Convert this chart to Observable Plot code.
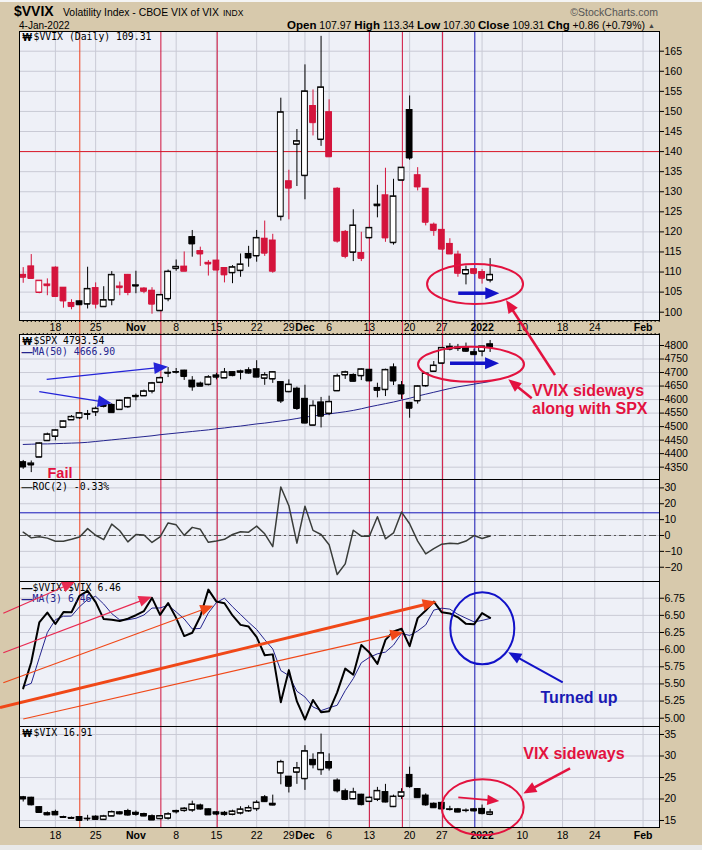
<!DOCTYPE html>
<html><head><meta charset="utf-8">
<script src="https://cdn.jsdelivr.net/npm/d3@7"></script>
<script src="https://cdn.jsdelivr.net/npm/@observablehq/plot@0.6"></script>
<style>
body{margin:0;background:#fff;}
#root{position:relative;width:702px;height:850px;background:#d7c9ac;overflow:hidden;}
.panel{position:absolute;left:0;}
.panel svg{overflow:visible;display:block;}
</style></head><body><div id="root"></div>
<script>
// ---------------- DATA ----------------
const sessions = ["10/12","10/13","10/14","10/15","10/18","10/19","10/20","10/21","10/22","10/25","10/26","10/27","10/28","10/29",
 "11/01","11/02","11/03","11/04","11/05","11/08","11/09","11/10","11/11","11/12","11/15","11/16","11/17","11/18","11/19","11/22","11/23","11/24","11/26","11/29","11/30",
 "12/01","12/02","12/03","12/06","12/07","12/08","12/09","12/10","12/13","12/14","12/15","12/16","12/17","12/20","12/21","12/22","12/23","12/27","12/28","12/29","12/30","12/31",
 "01/03","01/04"];
const tickIdx  = [4,9,14,19,24,29,33,35,38,43,48,52,57,62,67,71,77];
const tickText = ["18","25","Nov","8","15","22","29","Dec","6","13","20","27","2022","10","18","24","Feb"];
const boldLabels = ["Nov","Dec","2022","Feb"];

const vvixPrior = [106.5, 110.05];
const vvixOpen  = [109.3,111.4,104.9,106.9,111.1,106.1,102.3,102.7,102.0,106.0,101.35,103.0,106.4,109.3,106.5,105.9,105.35,100.35,103.3,110.85,111.35,118.7,115.2,112.3,112.85,111.0,109.8,110.35,114.5,114.0,118.3,117.85,123.8,132.6,141.8,134.0,151.35,143.0,149.8,130.75,120.0,114.9,114.75,118.5,126.5,129.1,117.3,132.85,150.35,134.1,130.75,121.8,120.5,117.0,114.35,109.5,110.7,110.0,107.97];
const vvixHigh  = [111.1,114.35,107.9,108.3,111.3,106.1,103.1,102.8,111.2,107.3,106.35,110.1,107.5,109.4,110.2,106.1,106.1,104.3,110.5,113.0,115.0,120.35,116.2,112.85,112.9,111.0,111.6,114.5,116.4,120.35,122.7,119.4,153.3,135.35,145.5,161.6,155.35,168.7,152.9,131.0,120.35,125.5,119.9,121.0,131.6,135.85,133.1,136.0,153.85,136.0,130.75,122.2,120.5,118.3,115.2,111.5,110.7,110.6,113.34];
const vvixLow   = [107.2,108.3,104.6,104.1,103.9,101.0,100.6,101.7,100.8,100.8,101.3,101.6,104.1,104.1,104.6,104.6,99.5,100.3,102.6,110.2,110.2,113.7,111.4,109.0,110.5,107.3,107.1,108.7,111.2,112.45,113.9,109.7,122.7,123.0,131.3,128.0,143.9,141.3,138.7,117.2,113.3,112.6,112.6,118.5,123.5,117.4,116.7,132.85,137.85,130.2,121.5,118.9,115.7,114.5,108.7,106.8,109.3,107.0,107.30];
const vvixClose = [108.7,108.4,107.85,106.6,103.9,102.8,101.4,101.85,105.8,102.0,103.0,109.3,106.1,104.9,106.7,105.2,102.0,104.3,110.1,111.3,110.2,117.0,114.5,112.0,110.5,109.3,111.2,111.9,113.5,118.5,114.7,110.2,149.8,130.9,142.6,155.0,147.2,156.0,138.7,117.7,113.9,121.6,113.4,121.0,126.8,118.5,128.85,136.0,138.4,131.2,122.4,120.35,115.7,114.5,109.7,110.5,109.67,108.45,109.31];

const spxOpen  = [4368.31,4358.01,4386.75,4447.69,4463.72,4497.34,4524.42,4532.24,4546.12,4553.69,4578.69,4580.22,4562.84,4572.87,4610.62,4613.34,4630.65,4662.93,4699.26,4701.48,4707.25,4670.26,4659.39,4655.24,4689.30,4679.42,4701.50,4700.72,4708.44,4712.00,4678.48,4675.78,4664.63,4628.75,4640.25,4602.82,4504.73,4589.49,4548.37,4631.97,4690.86,4691.00,4687.64,4710.30,4642.99,4636.46,4719.13,4652.50,4587.90,4594.96,4650.36,4703.96,4733.99,4795.49,4788.64,4794.23,4775.21,4778.14,4804.51];
const spxHigh  = [4374.89,4372.87,4439.73,4475.82,4488.75,4520.40,4540.87,4551.44,4559.67,4572.62,4598.53,4584.57,4597.55,4608.08,4620.34,4635.15,4663.46,4683.00,4718.50,4714.92,4708.53,4684.85,4664.55,4688.47,4697.42,4714.95,4701.50,4708.80,4717.75,4743.83,4699.39,4702.87,4664.63,4672.95,4646.02,4652.94,4595.46,4608.03,4612.60,4694.04,4705.06,4695.26,4713.57,4710.30,4660.47,4712.60,4731.99,4666.70,4587.90,4651.14,4697.67,4740.74,4791.49,4807.02,4804.06,4808.93,4786.83,4796.64,4818.62];
const spxLow   = [4342.09,4329.92,4386.75,4447.69,4447.47,4496.41,4524.40,4526.89,4524.00,4537.36,4569.17,4551.66,4562.84,4567.59,4595.06,4613.34,4621.19,4662.59,4681.32,4694.39,4670.87,4630.86,4648.31,4650.77,4672.86,4679.42,4684.41,4672.78,4694.22,4682.17,4652.66,4659.89,4585.43,4625.26,4560.00,4510.27,4504.73,4495.12,4540.51,4631.97,4674.52,4665.98,4670.24,4667.60,4606.52,4611.22,4651.89,4600.22,4531.10,4583.16,4645.53,4703.96,4733.99,4780.04,4778.08,4775.33,4765.75,4758.17,4774.27];
const spxClose = [4350.65,4363.80,4438.26,4471.37,4486.46,4519.63,4536.19,4549.78,4544.90,4566.48,4574.79,4551.68,4596.42,4605.38,4613.67,4630.65,4660.57,4680.06,4697.53,4701.70,4685.25,4646.71,4649.27,4682.85,4682.80,4700.90,4688.67,4704.54,4697.96,4682.94,4690.70,4701.46,4594.62,4655.27,4567.00,4513.04,4577.10,4538.43,4591.67,4686.75,4701.21,4667.45,4712.02,4668.97,4634.09,4709.85,4668.67,4620.64,4568.02,4649.23,4696.56,4725.79,4791.19,4786.35,4793.06,4778.73,4766.18,4796.56,4793.54];
const spxMA50  = [4434,4435,4436,4436,4437,4438,4439,4440,4442,4445,4448,4451,4454,4457,4460,4463,4466,4470,4473,4476,4479,4482,4485,4488,4492,4495,4499,4502,4506,4510,4513,4517,4521,4525,4530,4535,4539,4543,4547,4551,4555,4560,4566,4573,4579,4585,4591,4598,4605,4613,4620,4627,4634,4641,4647,4652,4657,4662,4666.9];

const vixPrior = [18.77, 20.86];
const vixOpen  = [20.4,20.3,18.1,16.7,17.0,15.8,15.6,15.8,15.4,15.9,15.2,16.0,16.9,17.2,16.8,16.5,16.0,15.4,15.5,17.0,17.3,17.4,18.5,17.6,16.9,16.8,16.4,16.7,17.2,17.7,20.4,18.9,26.0,25.2,26.2,24.7,29.1,26.8,28.6,24.3,21.8,20.0,21.0,19.4,19.9,21.6,18.2,20.6,25.6,22.3,20.8,18.9,19.1,17.6,17.6,17.3,17.6,17.7,16.4];
const vixHigh  = [20.6,20.4,18.2,17.0,17.4,16.0,15.8,15.9,16.2,16.1,16.2,17.2,17.1,17.6,17.2,16.7,16.3,16.1,16.8,17.4,18.0,19.5,18.8,17.7,17.1,17.1,17.4,18.2,18.4,19.6,20.8,20.9,29.0,25.2,28.5,32.4,30.5,35.1,30.5,24.7,22.3,22.5,21.1,20.5,22.7,23.4,20.9,22.4,27.4,22.4,21.2,19.1,19.2,18.3,17.8,17.7,17.8,18.6,17.6];
const vixLow   = [19.3,18.4,16.8,16.1,16.2,15.6,15.3,14.9,14.8,15.1,15.0,15.9,16.3,16.0,16.0,15.9,15.0,15.2,15.1,16.5,16.9,16.9,17.4,16.2,16.1,16.0,16.1,16.3,16.9,17.1,19.2,18.4,23.3,21.4,23.4,22.0,27.0,25.5,26.5,21.4,19.6,19.8,18.4,19.2,19.4,19.1,18.0,19.9,22.5,20.2,18.3,17.8,17.3,17.2,16.8,16.8,17.0,16.3,16.1];
const vixClose = [20.00,18.64,16.86,16.30,16.30,15.70,15.49,15.01,15.43,15.24,15.98,16.98,16.53,16.26,16.41,16.03,15.10,16.03,16.48,17.22,17.78,18.73,17.66,16.29,16.49,16.37,17.11,17.59,17.91,19.17,19.38,18.58,28.62,22.96,27.19,31.12,27.95,30.67,27.18,21.89,19.90,21.58,18.69,20.31,21.89,19.29,20.57,21.57,22.87,20.31,18.63,17.96,17.68,17.54,16.95,17.33,17.22,16.60,16.91];

// hand-drawn annotation positions (session index, panel value)
const redMarkerDays = [7.03, 17.1, 24.1, 43, 47.1, 52.1];
const blueMarkerDay = 56.1;
const vvixLevel = 140;
const rocLevel = 14.3;

// ---------------- STYLE ----------------
const FONT = "'Liberation Sans', Arial, sans-serif";
const MONO = "'DejaVu Sans Mono', monospace";
const PLOT_BG = "#eef0f7", GRID = "#c9cad5";
const CANDLE_RED = "#d4143c", ANN_RED = "#e3123f", BLUE = "#1212c8", ORANGE = "#f04818", PINK = "#e82a52", NAVY = "#24248e";
const W = 702, ML = 19, MR = 43, BW = 0.36;
const X_DOMAIN = [-0.46, 79.04];
const halfDays = d3.range(0, 79.01, 0.5);
const root = document.getElementById("root");

// ---------------- DERIVED ----------------
function buildCandles(O, H, L, C, prior, colored) {
  return sessions.map((s, i) => {
    const prev = i === 0 ? prior : C[i - 1];
    const col = colored && C[i] < prev ? CANDLE_RED : "#000000";
    return {i, s, open: O[i], high: H[i], low: L[i], close: C[i], col,
      fillc: C[i] > O[i] ? "#ffffff" : col,
      lo: Math.min(O[i], C[i]), hi: Math.max(O[i], C[i])};
  });
}
const vvix = buildCandles(vvixOpen, vvixHigh, vvixLow, vvixClose, vvixPrior[1], true);
const spx = buildCandles(spxOpen, spxHigh, spxLow, spxClose, spxClose[0], false);
const vix = buildCandles(vixOpen, vixHigh, vixLow, vixClose, vixPrior[1], false);
const spxMA = sessions.map((s, i) => ({i, v: spxMA50[i]}));
const allV = [...vvixPrior, ...vvixClose], allX = [...vixPrior, ...vixClose];
const roc = sessions.map((s, i) => ({i, v: (allV[i + 2] / allV[i] - 1) * 100}));
const allR = allV.map((v, k) => v / allX[k]);
const ratio = sessions.map((s, i) => ({i, v: allR[i + 2], ma: (allR[i] + allR[i + 1] + allR[i + 2]) / 3}));

// ---------------- MARK HELPERS ----------------
function candleMarks(data) {
  return [
    Plot.ruleX(data, {x: "i", y1: "low", y2: "high", stroke: "col"}),
    Plot.rect(data, {x1: d => d.i - BW, x2: d => d.i + BW, y1: "lo", y2: "hi", fill: "fillc", stroke: "col", strokeWidth: 1}),
    Plot.ruleY(data, {y: "close", x1: d => d.i - BW, x2: d => d.i + BW, stroke: "col"}),
    Plot.ruleY(data, {y: "open", x1: d => d.i - BW, x2: d => d.i + BW, stroke: "col"})
  ];
}
function markerMarks(extendBottom = 0) {
  return [
    Plot.ruleX(redMarkerDays, {x: d => d, stroke: (d, k) => k === 0 ? "#ee4220" : "#d0103c", strokeWidth: 1, insetBottom: -extendBottom}),
    Plot.ruleX([blueMarkerDay], {x: d => d, stroke: "#1414b0", strokeWidth: 1, insetBottom: -extendBottom})
  ];
}
function arrowMark(list) {
  return Plot.link(list, {
    x1: "x1", y1: "y1", x2: "x2", y2: "y2",
    render(index, scales, values) {
      const g = d3.create("svg:g");
      for (const k of index) {
        const d = list[k];
        const ax = values.x1[k], ay = values.y1[k], bx = values.x2[k], by = values.y2[k];
        const dx = bx - ax, dy = by - ay, len = Math.hypot(dx, dy), ux = dx / len, uy = dy / len;
        const hl = d.head, hw = d.head * 0.85;
        const cx = bx - ux * hl, cy = by - uy * hl;
        g.append("line").attr("x1", ax).attr("y1", ay).attr("x2", cx + ux * 2).attr("y2", cy + uy * 2)
          .attr("stroke", d.col).attr("stroke-width", d.w);
        g.append("path").attr("fill", d.col)
          .attr("d", `M${bx},${by}L${cx - uy * hw / 2},${cy + ux * hw / 2}L${cx + uy * hw / 2},${cy - ux * hw / 2}Z`);
      }
      return g.node();
    }
  });
}
function ellipseMark(list) {
  return Plot.dot(list, {
    x: "i", y: "v",
    render(index, scales, values) {
      const g = d3.create("svg:g");
      for (const k of index) {
        const d = list[k];
        g.append("ellipse").attr("cx", values.x[k]).attr("cy", values.y[k]).attr("rx", d.rx).attr("ry", d.ry)
          .attr("fill", "none").attr("stroke", d.col).attr("stroke-width", d.w);
      }
      return g.node();
    }
  });
}
function noteMark(list, col, size) {
  return Plot.text(list, {x: "i", y: "v", text: "t", textAnchor: "start", lineAnchor: "bottom",
    fill: col, fontSize: size, fontWeight: "bold", fontFamily: FONT});
}
function legendMark(parts) {
  return parts.map(p => Plot.text([p.t], {frameAnchor: "top-left", text: d => d, dx: p.dx, dy: p.dy,
    textAnchor: "start", lineAnchor: "top", fill: p.col || "#000", fontFamily: p.font || MONO,
    fontSize: p.size || 9.8, fontWeight: p.bold ? "bold" : "normal"}));
}
const tickLabel = i => tickText[tickIdx.indexOf(i)];
function dateAxis(anchor, pad) {
  const reg = tickIdx.filter(i => !boldLabels.includes(tickLabel(i)));
  const bold = tickIdx.filter(i => boldLabels.includes(tickLabel(i)));
  return [
    Plot.axisX({anchor, ticks: reg, tickSize: 0, tickPadding: pad, tickFormat: tickLabel, label: null, fontSize: 10.5}),
    Plot.axisX({anchor, ticks: bold, tickSize: 0, tickPadding: pad, tickFormat: tickLabel, label: null, fontSize: 10.5, fontWeight: "bold"})
  ];
}

function makePanel({top, frameH, mb = 0, yDomain, yTicks, yFmt, marks, z, xAxisNull}) {
  const svg = Plot.plot({
    width: W, height: frameH + mb,
    marginLeft: ML, marginRight: MR, marginTop: 0, marginBottom: mb,
    x: xAxisNull ? {domain: X_DOMAIN, axis: null} : {domain: X_DOMAIN},
    y: {domain: yDomain},
    style: {background: "transparent", overflow: "visible", fontFamily: FONT, fontSize: "10.5px", color: "#000"},
    marks: [
      Plot.frame({fill: PLOT_BG, stroke: null}),
      Plot.gridX({ticks: tickIdx, stroke: GRID, strokeOpacity: 1}),
      Plot.gridY({ticks: yTicks, stroke: GRID, strokeOpacity: 1}),
      ...marks,
      Plot.frame({stroke: "#000", strokeWidth: 1, fill: null}),
      Plot.axisY({anchor: "right", ticks: yTicks, tickSize: 4, tickPadding: 1, tickFormat: yFmt, label: null})
    ]
  });
  const div = document.createElement("div");
  div.className = "panel";
  div.style.top = top + "px";
  div.style.zIndex = z;
  div.appendChild(svg);
  root.appendChild(div);
}

// ---------------- PANEL 1 : VVIX ----------------
makePanel({
  top: 31, frameH: 289, mb: 14, z: 6,
  yDomain: [97.93, 169.91], yTicks: d3.range(100, 166, 5), yFmt: d3.format("d"),
  marks: [
    Plot.ruleY([vvixLevel], {stroke: "#dc1a2a"}),
    ...markerMarks(14),
    ...candleMarks(vvix),
    Plot.axisX({anchor: "bottom", ticks: halfDays, tickSize: 2, tickFormat: () => "", label: null}),
    ...dateAxis("bottom", 3),
    ...legendMark([{t: "₩", dx: 3, dy: 2, font: FONT, size: 10, bold: true}, {t: "$VVIX (Daily) 109.31", dx: 14, dy: 2}]),
    ellipseMark([{i: 56.19, v: 106.9, rx: 48, ry: 20, col: ANN_RED, w: 2}]),
    arrowMark([
      {x1: 54.1, y1: 104.6, x2: 59.2, y2: 104.6, col: BLUE, w: 3.5, head: 14},
      {x1: 66.12, y1: 84.23, x2: 60.04, y2: 102.91, col: ANN_RED, w: 2.5, head: 13}
    ])
  ]
});

// ---------------- PANEL 2 : SPX ----------------
makePanel({
  top: 334, frameH: 145, z: 5,
  yDomain: [4304.4, 4840.7], yTicks: d3.range(4350, 4801, 50), yFmt: d3.format("d"),
  marks: [
    ...markerMarks(0),
    Plot.line(spxMA, {x: "i", y: "v", stroke: NAVY, strokeWidth: 1}),
    ...candleMarks(spx),
    Plot.axisX({anchor: "top", ticks: halfDays, tickSize: 2, tickFormat: () => "", label: null}),
    ...legendMark([
      {t: "₩", dx: 3, dy: 3, font: FONT, size: 10, bold: true}, {t: "$SPX 4793.54", dx: 14, dy: 3},
      {t: "—", dx: 2, dy: 14, col: NAVY, font: FONT, size: 11, bold: true}, {t: "MA(50) 4666.90", dx: 13, dy: 14, col: NAVY}
    ]),
    ellipseMark([{i: 55.69, v: 4728.6, rx: 53, ry: 17.5, col: ANN_RED, w: 2}]),
    arrowMark([
      {x1: 2.98, y1: 4673.2, x2: 18.05, y2: 4719.7, col: "#2424d8", w: 1.2, head: 14},
      {x1: 2.06, y1: 4627.3, x2: 11.06, y2: 4584.4, col: "#2424d8", w: 1.2, head: 14},
      {x1: 53.08, y1: 4732.3, x2: 59.17, y2: 4732.3, col: BLUE, w: 3.5, head: 14},
      {x1: 63.23, y1: 4602.9, x2: 60.32, y2: 4673.2, col: ANN_RED, w: 2.5, head: 13}
    ]),
    noteMark([{i: 63.2, v: 4611.4, t: "VVIX sideways"}, {i: 63.2, v: 4548.5, t: "along with SPX"}], ANN_RED, 16),
    noteMark([{i: 3.02, v: 4311, t: "Fail"}], ANN_RED, 14.5)
  ]
});

// ---------------- PANEL 3 : ROC(2) ----------------
makePanel({
  top: 479, frameH: 102, z: 3, xAxisNull: true,
  yDomain: [-28.99, 35.29], yTicks: [-20, -10, 0, 10, 20, 30], yFmt: d3.format("d"),
  marks: [
    ...markerMarks(0),
    Plot.ruleY([rocLevel], {stroke: "#1414b8"}),
    Plot.ruleY([0], {stroke: "#555", strokeDasharray: "7,3,2,3"}),
    Plot.line(roc, {x: "i", y: "v", stroke: "#3a3d3a", strokeWidth: 1.5}),
    ...legendMark([{t: "—", dx: 2, dy: 4, col: "#3a3d3a", font: FONT, size: 11, bold: true}, {t: "ROC(2) -0.33%", dx: 13, dy: 4}])
  ]
});

// ---------------- PANEL 4 : VVIX:VIX ----------------
makePanel({
  top: 581, frameH: 145, z: 4, xAxisNull: true,
  yDomain: [4.879, 6.994], yTicks: d3.range(5, 6.76, 0.25), yFmt: d3.format(".2f"),
  marks: [
    ...markerMarks(0),
    Plot.line(ratio, {x: "i", y: "ma", stroke: NAVY, strokeWidth: 1}),
    Plot.line(ratio, {x: "i", y: "v", stroke: "#000", strokeWidth: 2}),
    ...legendMark([
      {t: "—", dx: 2, dy: 3, col: "#000", font: FONT, size: 11, bold: true}, {t: "$VVIX:$VIX 6.46", dx: 13, dy: 3},
      {t: "—", dx: 2, dy: 14, col: NAVY, font: FONT, size: 11, bold: true}, {t: "MA(3) 6.46", dx: 13, dy: 14, col: NAVY}
    ]),
    arrowMark([
      {x1: -2.82, y1: 5.149, x2: 51.43, y2: 6.692, col: ORANGE, w: 3, head: 14},
      {x1: -2.41, y1: 5.510, x2: 23.68, y2: 6.633, col: ORANGE, w: 1.2, head: 13},
      {x1: -2.41, y1: 5.948, x2: 16.02, y2: 6.765, col: PINK, w: 1.2, head: 13},
      {x1: -2.41, y1: 6.523, x2: 6.5, y2: 6.983, col: PINK, w: 1.2, head: 13},
      {x1: 0.07, y1: 4.981, x2: 47.28, y2: 6.245, col: ORANGE, w: 1.2, head: 13},
      {x1: 67.08, y1: 5.516, x2: 60.32, y2: 5.954, col: BLUE, w: 2, head: 13}
    ]),
    ellipseMark([{i: 57.09, v: 6.304, rx: 32, ry: 36, col: BLUE, w: 2}]),
    noteMark([{i: 64.26, v: 5.218, t: "Turned up"}], "#1a1ab4", 16)
  ]
});

// ---------------- PANEL 5 : VIX ----------------
makePanel({
  top: 726, frameH: 101, mb: 15, z: 2,
  yDomain: [13.37, 36.86], yTicks: [15, 20, 25, 30, 35], yFmt: d3.format("d"),
  marks: [
    ...markerMarks(0),
    ...candleMarks(vix),
    ...dateAxis("bottom", 4),
    ...legendMark([{t: "₩", dx: 3, dy: 3, font: FONT, size: 10, bold: true}, {t: "$VIX 16.91", dx: 14, dy: 3}]),
    ellipseMark([{i: 57.14, v: 17.95, rx: 41, ry: 28, col: ANN_RED, w: 2}]),
    arrowMark([
      {x1: 67.99, y1: 27.02, x2: 62.19, y2: 21.19, col: ANN_RED, w: 2.5, head: 13},
      {x1: 54.11, y1: 20.28, x2: 59.2, y2: 19.42, col: ANN_RED, w: 1.8, head: 12}
    ]),
    noteMark([{i: 62.11, v: 29.35, t: "VIX sideways"}], ANN_RED, 16)
  ]
});

// ---------------- HEADER / FOOTER ----------------
const hdr = d3.select(root).append("svg").attr("width", W).attr("height", 31)
  .style("position", "absolute").style("left", 0).style("top", 0).style("z-index", 7).style("font-family", FONT);
hdr.append("rect").attr("x", 0).attr("y", 0).attr("width", W).attr("height", 2).attr("fill", "#f4f4f4");
hdr.append("text").attr("x", 14).attr("y", 15.5).attr("font-size", 14).attr("font-weight", "bold").text("$VVIX");
hdr.append("text").attr("x", 63).attr("y", 15.5).attr("font-size", 10.4).text("Volatility Index - CBOE VIX of VIX");
hdr.append("text").attr("x", 223).attr("y", 15.5).attr("font-size", 8.5).text("INDX");
hdr.append("text").attr("x", 658).attr("y", 15.5).attr("font-size", 10.5).attr("fill", "#555").attr("text-anchor", "end").text("©StockCharts.com");
hdr.append("text").attr("x", 19).attr("y", 28.8).attr("font-size", 10).text("4-Jan-2022");
const q = hdr.append("text").attr("x", 645).attr("y", 28.5).attr("font-size", 10.5).attr("text-anchor", "end");
[["Open", " 107.97  "], ["High", " 113.34  "], ["Low", " 107.30  "], ["Close", " 109.31  "], ["Chg", " +0.86 (+0.79%)"]].forEach(([a, b]) => {
  q.append("tspan").attr("font-weight", "bold").attr("font-size", 11.5).text(a);
  q.append("tspan").text(b);
});
hdr.append("text").attr("x", 648).attr("y", 27.5).attr("font-size", 7).attr("fill", "#444").text("▲");
d3.select(root).append("div").style("position", "absolute").style("left", "0px").style("top", "845px")
  .style("width", W + "px").style("height", "5px").style("background", "#e9e9e9");
</script></body></html>
